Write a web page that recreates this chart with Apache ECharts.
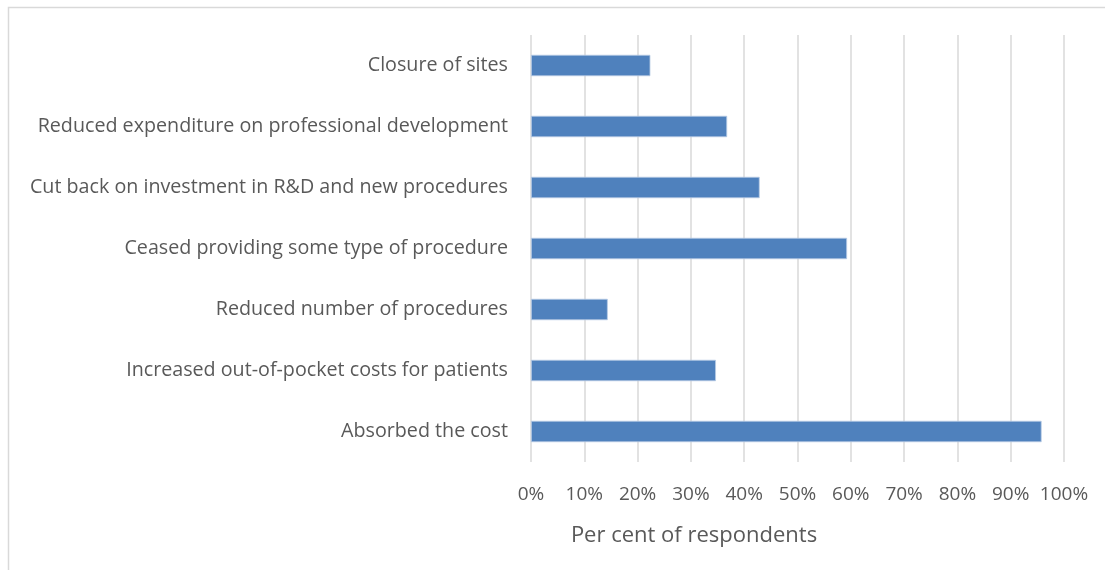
<!DOCTYPE html>
<html>
<head>
<meta charset="utf-8">
<script src="https://cdn.jsdelivr.net/npm/echarts@6/dist/echarts.min.js"></script>
<style>html,body{margin:0;padding:0;background:#fff}#c{width:1105px;height:570px}</style>
</head>
<body>
<div id="c"></div>
<script>
const categories = [
  "Closure of sites",
  "Reduced expenditure on professional development",
  "Cut back on investment in R&D and new procedures",
  "Ceased providing some type of procedure",
  "Reduced number of procedures",
  "Increased out-of-pocket costs for patients",
  "Absorbed the cost"
];
const values = [22.4, 36.8, 42.9, 59.3, 14.4, 34.7, 95.8];
const xTicks = [0, 10, 20, 30, 40, 50, 60, 70, 80, 90, 100];
const axisTitle = "Per cent of respondents";

const FONT = "Open Sans";
const chart = echarts.init(document.getElementById('c'), null, {renderer: 'canvas'});
chart.setOption({
  animation: false,
  backgroundColor: '#ffffff',
  graphic: [{
    type: 'rect', silent: true,
    shape: {x: 8.5, y: 7.5, width: 1120, height: 600},
    style: {fill: 'none', stroke: '#d9d9d9', lineWidth: 1.5}
  }, {
    type: 'text', silent: true, x: 694, y: 536,
    style: {text: axisTitle, fill: '#595959', font: '22px "Open Sans"', textAlign: 'center', textVerticalAlign: 'middle'}
  }],
  grid: {left: 531, right: 41, top: 35, bottom: 108, containLabel: false},
  xAxis: {
    type: 'value', min: xTicks[0], max: xTicks[xTicks.length - 1], interval: 10,
    axisLine: {show: false}, axisTick: {show: false},
    splitLine: {show: true, lineStyle: {color: '#d9d9d9', width: 1.5}},
    axisLabel: {formatter: '{value}%', color: '#595959', fontFamily: FONT, fontSize: 19, margin: 23}
  },
  yAxis: {
    type: 'category', inverse: true, data: categories,
    axisLine: {show: false}, axisTick: {show: false},
    axisLabel: {color: '#595959', fontFamily: FONT, fontSize: 19.7, margin: 23, padding: [4, 0, 0, 0]}
  },
  series: [{
    type: 'bar', data: values, barCategoryGap: '65%',
    itemStyle: {color: '#4f81bd', borderColor: '#b7cbe4', borderWidth: 0.8}
  }]
});
</script>
</body>
</html>
